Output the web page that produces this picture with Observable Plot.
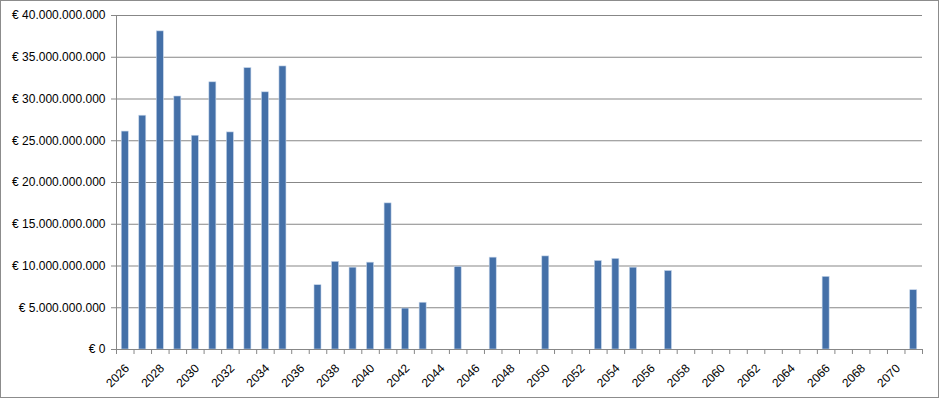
<!DOCTYPE html>
<html>
<head>
<meta charset="utf-8">
<script src="https://cdn.jsdelivr.net/npm/d3@7"></script>
<script src="https://cdn.jsdelivr.net/npm/@observablehq/plot@0.6"></script>
<style>
  html, body { margin: 0; padding: 0; background: #fff; }
  #chart { position: relative; width: 939px; height: 398px; }
  #chart svg { display: block; }
  #border { position: absolute; left: 0; top: 0; width: 937px; height: 396px; border: 1px solid #8c8c8c; pointer-events: none; }
</style>
</head>
<body>
<div id="chart"><div id="border"></div></div>
<script>
// All categories on the x axis
const categories = [2026,2027,2028,2029,2030,2031,2032,2033,2034,2035,2036,2037,2038,2039,2040,2041,2042,2043,2044,2045,2046,2047,2048,2049,2050,2051,2052,2053,2054,2055,2056,2057,2058,2059,2060,2061,2062,2063,2064,2065,2066,2067,2068,2069,2070,2071];
// Years that have a bar, and their values (EUR)
const barYears = [2026,2027,2028,2029,2030,2031,2032,2033,2034,2035,2037,2038,2039,2040,2041,2042,2043,2045,2047,2050,2053,2054,2055,2057,2066,2071];
const barValues = [26.1e9,28.0e9,38.1e9,30.3e9,25.6e9,32.0e9,26.0e9,33.7e9,30.8e9,33.9e9,7.7e9,10.5e9,9.8e9,10.4e9,17.5e9,4.9e9,5.6e9,9.9e9,11.0e9,11.15e9,10.6e9,10.85e9,9.8e9,9.4e9,8.7e9,7.1e9];
// Axis tick labels
const xLabels = [2026,2028,2030,2032,2034,2036,2038,2040,2042,2044,2046,2048,2050,2052,2054,2056,2058,2060,2062,2064,2066,2068,2070];
const yTicks = [0,5e9,10e9,15e9,20e9,25e9,30e9,35e9,40e9];

const data = barYears.map((y, i) => ({year: y, value: barValues[i]}));
const fmt = v => v === 0 ? "€ 0" : "€ " + d3.format(",")(v).replace(/,/g, ".");

const W = 939, H = 398, ML = 116, MR = 17;
const step = (W - ML - MR) / categories.length;
const gray = "#878787";

const chart = Plot.plot({
  width: W,
  height: H,
  marginLeft: ML,
  marginRight: MR,
  marginTop: 15,
  marginBottom: 49,
  style: {fontFamily: "'Liberation Sans', Arial, sans-serif", fontSize: "12px", color: "#000", background: "transparent"},
  x: {type: "band", domain: categories, paddingInner: 0.6, paddingOuter: 0.3, round: false, label: null},
  y: {domain: [0, 40e9], label: null},
  marks: [
    Plot.gridY(yTicks, {stroke: gray, strokeOpacity: 1, strokeWidth: 1}),
    Plot.barY(data, {x: "year", y: "value", fill: "#4470a8", stroke: "#c5d5ea", strokeWidth: 0.6}),
    Plot.axisY({ticks: yTicks, tickSize: 5, tickPadding: 6, tickFormat: fmt, stroke: gray, fill: "#000", label: null}),
    Plot.ruleX([0], {x: () => categories[0], dx: -step / 2, y1: 0, y2: 40e9, stroke: gray}),
    Plot.ruleY([0], {stroke: gray}),
    Plot.axisX({ticks: categories, tickSize: 5, tickFormat: () => "", dx: -step / 2, stroke: gray, label: null}),
    Plot.axisX({ticks: [categories[categories.length - 1]], tickSize: 5, tickFormat: () => "", dx: step / 2, stroke: gray, label: null}),
    Plot.axisX({ticks: xLabels, tickSize: 0, tickRotate: -45, tickFormat: d => String(d), textAnchor: "end", lineAnchor: "middle", dx: 2, dy: 5, fill: "#000", label: null})
  ]
});
document.getElementById("chart").prepend(chart);
</script>
</body>
</html>
